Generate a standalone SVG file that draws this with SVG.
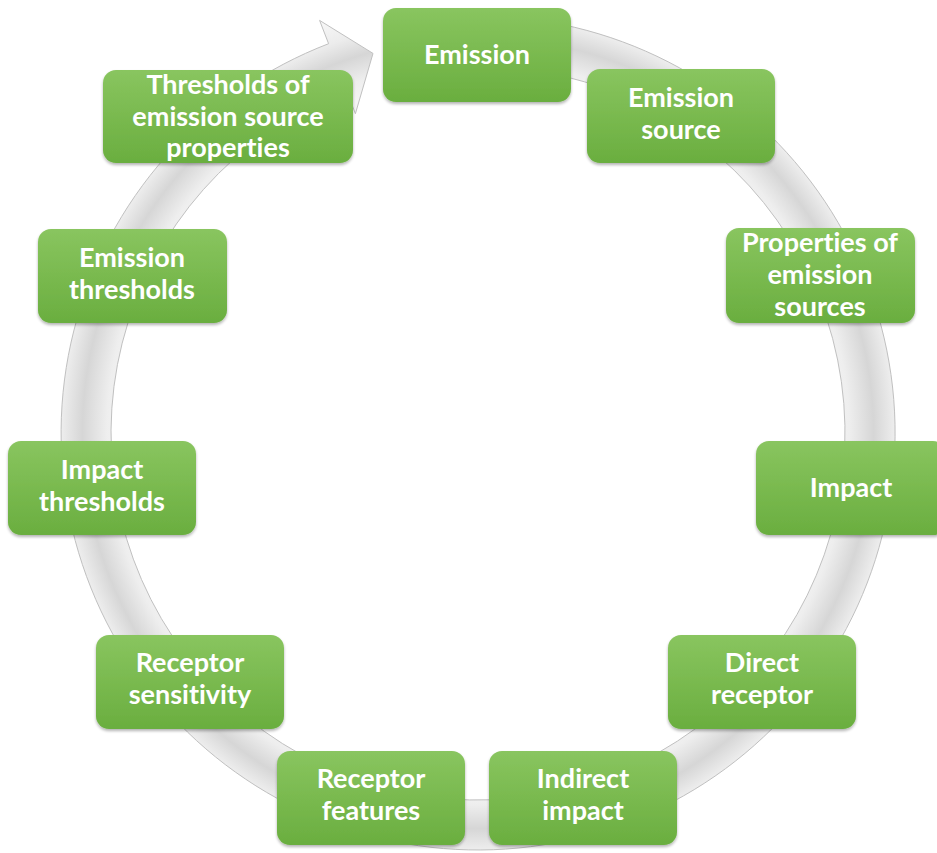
<svg xmlns="http://www.w3.org/2000/svg" width="937" height="853" viewBox="0 0 937 853">
<defs>
<radialGradient id="ringG" gradientUnits="userSpaceOnUse" cx="478" cy="433" r="442">
<stop offset="0.80" stop-color="#f4f4f4"/>
<stop offset="0.84" stop-color="#eeeeee"/>
<stop offset="0.895" stop-color="#d6d6d6"/>
<stop offset="0.94" stop-color="#ececec"/>
<stop offset="1" stop-color="#f8f8f8"/>
</radialGradient>
<linearGradient id="boxG" x1="0" y1="0" x2="0" y2="1">
<stop offset="0" stop-color="#89c55f"/>
<stop offset="1" stop-color="#6aae3f"/>
</linearGradient>
<filter id="sh" x="-10%" y="-10%" width="120%" height="130%">
<feGaussianBlur in="SourceAlpha" stdDeviation="1.5"/>
<feOffset dy="1.5"/>
<feComponentTransfer><feFuncA type="linear" slope="0.3"/></feComponentTransfer>
<feMerge><feMergeNode/><feMergeNode in="SourceGraphic"/></feMerge>
</filter>
</defs>
<style>
.box{fill:url(#boxG);filter:url(#sh);}
.t{font-family:Lato,"Open Sans","Liberation Sans",sans-serif;font-weight:bold;font-size:27px;fill:#ffffff;text-anchor:middle;font-variant-ligatures:none;}
</style>
<rect width="937" height="853" fill="#ffffff"/>
<g id="connectors">
<path d="M 550.4 22.3 A 417 417 0 1 1 328.6 43.7 L 319.6 20.4 L 373.0 53.4 L 355.4 113.7 L 346.5 90.4 A 367 367 0 1 0 541.7 71.6 Z" fill="url(#ringG)" stroke="#c0c0c0" stroke-width="1"/>
</g>
<g id="emission"><rect class="box" x="383" y="8" width="188" height="94" rx="13"/><text class="t" x="477" y="64">Emission</text></g>
<g id="emission-source"><rect class="box" x="587" y="69" width="188" height="94" rx="13"/><text class="t" x="681" y="107">Emission</text><text class="t" x="681" y="139">source</text></g>
<g id="properties"><rect class="box" x="726" y="228" width="189" height="95" rx="13"/><text class="t" x="820" y="252">Properties of</text><text class="t" x="820" y="284">emission</text><text class="t" x="820" y="316">sources</text></g>
<g id="impact"><rect class="box" x="756" y="441" width="190" height="94" rx="13"/><text class="t" x="851" y="497">Impact</text></g>
<g id="direct-receptor"><rect class="box" x="668" y="635" width="188" height="94" rx="13"/><text class="t" x="762" y="672">Direct</text><text class="t" x="762" y="704">receptor</text></g>
<g id="indirect-impact"><rect class="box" x="489" y="751" width="188" height="94" rx="13"/><text class="t" x="583" y="788">Indirect</text><text class="t" x="583" y="820">impact</text></g>
<g id="receptor-features"><rect class="box" x="277" y="751" width="188" height="94" rx="13"/><text class="t" x="371" y="788">Receptor</text><text class="t" x="371" y="820">features</text></g>
<g id="receptor-sensitivity"><rect class="box" x="96" y="635" width="188" height="94" rx="13"/><text class="t" x="190" y="672">Receptor</text><text class="t" x="190" y="704">sensitivity</text></g>
<g id="impact-thresholds"><rect class="box" x="8" y="441" width="188" height="94" rx="13"/><text class="t" x="102" y="479">Impact</text><text class="t" x="102" y="511">thresholds</text></g>
<g id="emission-thresholds"><rect class="box" x="38" y="229" width="189" height="94" rx="13"/><text class="t" x="132" y="267">Emission</text><text class="t" x="132" y="299">thresholds</text></g>
<g id="thresholds-props"><rect class="box" x="103" y="70" width="250" height="93" rx="13"/><text class="t" x="228" y="94">Thresholds of</text><text class="t" x="228" y="126">emission source</text><text class="t" x="228" y="157">properties</text></g>
</svg>
